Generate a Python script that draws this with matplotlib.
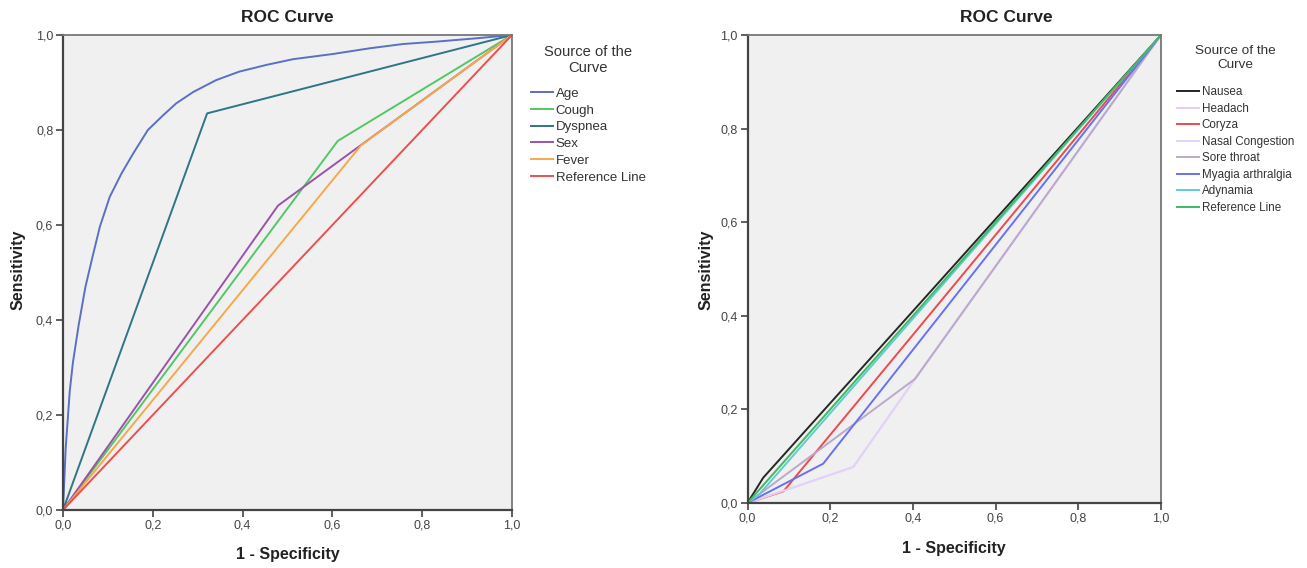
import numpy as np
import matplotlib
matplotlib.use("Agg")
import matplotlib.pyplot as plt
from matplotlib.ticker import FuncFormatter

plt.rcParams['font.family'] = ['Liberation Sans', 'DejaVu Sans']

# left chart: ROC points (1 - specificity, sensitivity)
age_x = [0, 0.006, 0.015, 0.022, 0.035, 0.05, 0.065, 0.082, 0.104, 0.13, 0.156, 0.189, 0.223, 0.252,
         0.29, 0.341, 0.393, 0.453, 0.512, 0.601, 0.683, 0.757, 0.831, 0.92, 1.0]
age_y = [0, 0.13, 0.25, 0.31, 0.39, 0.47, 0.53, 0.596, 0.659, 0.708, 0.75, 0.80, 0.831, 0.856,
         0.88, 0.905, 0.923, 0.937, 0.949, 0.96, 0.972, 0.981, 0.986, 0.993, 1.0]
cough_x = [0, 0.612, 1]
cough_y = [0, 0.777, 1]
dysp_x = [0, 0.321, 1]
dysp_y = [0, 0.835, 1]
sex_x = [0, 0.479, 1]
sex_y = [0, 0.641, 1]
fever_x = [0, 0.664, 1]
fever_y = [0, 0.768, 1]
ref_x = [0, 1]
ref_y = [0, 1]

# right chart
nausea_x = [0, 0.038, 1]
nausea_y = [0, 0.054, 1]
headach_x = [0, 0.256, 0.405, 1]
headach_y = [0, 0.077, 0.265, 1]
coryza_x = [0, 0.087, 1]
coryza_y = [0, 0.025, 1]
nasal_x = [0, 0.256, 0.405, 1]
nasal_y = [0, 0.077, 0.265, 1]
sore_x = [0, 0.405, 1]
sore_y = [0, 0.265, 1]
myagia_x = [0, 0.183, 1]
myagia_y = [0, 0.084, 1]
adyn_x = [0, 0.03, 1]
adyn_y = [0, 0.02, 1]

left_series = [("Age", age_x, age_y, "#5a6fc6"),
               ("Cough", cough_x, cough_y, "#52c865"),
               ("Dyspnea", dysp_x, dysp_y, "#2f7586"),
               ("Sex", sex_x, sex_y, "#9b53a9"),
               ("Fever", fever_x, fever_y, "#f6a84a"),
               ("Reference Line", ref_x, ref_y, "#ec4f4f")]
right_series = [("Nausea", nausea_x, nausea_y, "#262626"),
                ("Headach", headach_x, headach_y, "#e6cdf2"),
                ("Coryza", coryza_x, coryza_y, "#ec4a4c"),
                ("Nasal Congestion", nasal_x, nasal_y, "#e4d2f8"),
                ("Sore throat", sore_x, sore_y, "#bba9cb"),
                ("Myagia arthralgia", myagia_x, myagia_y, "#6672f2"),
                ("Adynamia", adyn_x, adyn_y, "#62cbd2"),
                ("Reference Line", ref_x, ref_y, "#3dba62")]

W, H = 1307, 568
fig = plt.figure(figsize=(W / 100, H / 100), dpi=100)
comma = FuncFormatter(lambda v, p: ("%.1f" % v).replace(".", ","))


def roc_axes(rect, series, title_x, leg_anchor, ylab_x, xlab_y, fs, tfs, hl, ls, sep):
    l, t, r, b = rect
    ax = fig.add_axes([l / W, 1 - b / H, (r - l) / W, (b - t) / H])
    ax.set_facecolor("#f0f0f0")
    for name, xs, ys, c in series:
        ax.plot(xs, ys, color=c, lw=1.4, label=name)
    ax.set_xlim(0, 1)
    ax.set_ylim(0, 1)
    ticks = np.arange(0, 1.01, 0.2)
    ax.set_xticks(ticks)
    ax.set_yticks(ticks)
    ax.xaxis.set_major_formatter(comma)
    ax.yaxis.set_major_formatter(comma)
    ax.tick_params(direction="out", length=5, width=1.2, color="#444444",
                   labelsize=9, labelcolor="#444444", pad=2)
    for s in ax.spines.values():
        s.set_color("#777777")
        s.set_linewidth(1.3)
    ax.spines["left"].set_color("#444444")
    ax.spines["bottom"].set_color("#444444")
    ax.spines["left"].set_linewidth(1.6)
    ax.spines["bottom"].set_linewidth(1.6)
    fig.text(title_x / W, 1 - 18 / H, "ROC Curve", ha="center", va="center",
             fontsize=12.5, fontweight="bold", color="#222222")
    fig.text(ylab_x / W, 1 - 270 / H, "Sensitivity", rotation=90, ha="center",
             va="center", fontsize=11.5, fontweight="bold", color="#222222")
    fig.text((l + r) / 2 / W, 1 - xlab_y / H, "1 - Specificity", ha="center",
             va="center", fontsize=11.5, fontweight="bold", color="#222222")
    leg = ax.legend(loc="upper left", bbox_to_anchor=leg_anchor, frameon=False,
                    title="Source of the\nCurve", fontsize=fs, handlelength=hl,
                    handletextpad=0.2, labelspacing=ls, borderaxespad=0,
                    borderpad=0, alignment="center")
    leg.get_title().set_fontsize(tfs)
    leg.get_title().set_color("#333333")
    leg.get_title().set_multialignment("center")
    leg._legend_box.sep = sep
    for txt in leg.get_texts():
        txt.set_color("#333333")
    return ax


roc_axes((63, 35, 512, 510), left_series, 287, (1.042, 0.979), 18, 555,
         9.5, 10.6, 1.67, 0.34, 9)
roc_axes((747.5, 35, 1161, 503), right_series, 1006, (1.0387, 0.978), 706, 549,
         8.4, 9.7, 1.9, 0.386, 11)

fig.savefig("out.png", dpi=100)
